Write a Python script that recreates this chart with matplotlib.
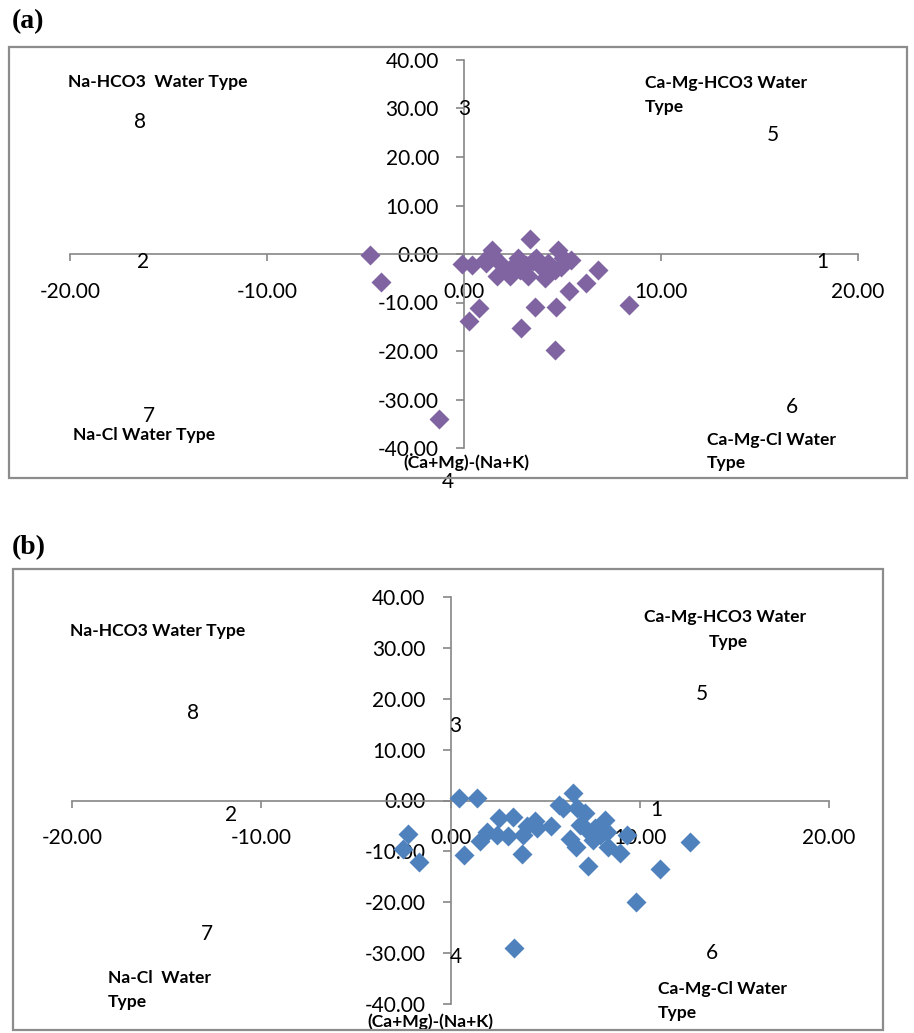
import matplotlib
matplotlib.use("Agg")
import matplotlib.pyplot as plt
from matplotlib.patches import Rectangle
from matplotlib.ticker import FormatStrFormatter

plt.rcParams['font.family'] = ['Lato', 'DejaVu Sans']
plt.rcParams['axes.unicode_minus'] = False

# (Ca+Mg)-(Na+K) vs (HCO3)-(Cl+SO4), panel (a)
xa = [-4.75, -4.21, -1.26, -0.08, 0.39, 0.27, 0.77, 1.06, 1.40, 1.48, 1.14, 1.65,
      1.82, 2.32, 2.49, 2.74, 2.91, 2.83, 3.33, 3.25, 3.16, 3.67, 3.59, 3.84,
      4.09, 4.26, 4.60, 4.76, 4.68, 4.60, 5.00, 5.42, 5.35, 6.20, 6.78, 8.38,
      4.34, 3.50, 2.10, 4.90]
ya = [-0.3, -5.8, -34.0, -2.0, -2.2, -13.8, -11.2, -1.2, 0.8, -0.5, -1.9, -4.6,
      -1.9, -4.6, -2.5, -0.8, -15.3, -3.2, 3.1, -4.6, -2.2, -0.8, -10.9, -2.5,
      -5.0, -1.9, -3.2, 0.8, -10.9, -19.7, -0.8, -1.2, -7.7, -6.0, -3.2, -10.6,
      -3.9, -1.5, -3.0, -2.6]

# panel (b)
xb = [-2.23, -2.49, -1.65, 0.47, 1.38, 0.73, 1.56, 1.91, 2.44, 2.58, 3.05, 3.32,
      3.76, 3.85, 4.02, 4.47, 4.55, 3.36, 5.29, 5.75, 5.96, 6.49, 6.31, 6.63,
      6.66, 7.10, 6.84, 7.20, 7.55, 7.28, 7.90, 8.16, 8.25, 7.63, 8.33, 8.95,
      9.30, 9.80, 11.07, 12.65, 7.90]
yb = [-6.6, -9.6, -12.0, 0.5, 0.5, -10.7, -7.9, -6.1, -6.8, -3.5, -7.0, -3.3,
      -10.5, -6.8, -5.0, -4.1, -5.5, -28.9, -5.1, -0.9, -1.5, 1.4, -7.6, -9.2,
      -1.5, -2.5, -4.8, -5.8, -7.8, -12.9, -5.1, -3.9, -6.1, -5.5, -9.2, -10.3,
      -6.8, -19.9, -13.4, -8.1, -6.8]

xticks = [-20, -10, 0, 10, 20]
yticks = [-40, -30, -20, -10, 0, 10, 20, 30, 40]

# (x, y, text, bold, ha) in data coords of each panel
notes_a = [
    (-20.1, 35.5, 'Na-HCO3  Water Type', True, 'left'),
    (-16.45, 27.2, '8', False, 'center'),
    (0.0, 29.9, '3', False, 'center'),
    (9.19, 35.3, 'Ca-Mg-HCO3 Water', True, 'left'),
    (9.19, 30.3, 'Type', True, 'left'),
    (15.69, 24.5, '5', False, 'center'),
    (-16.3, -1.65, '2', False, 'center'),
    (18.17, -1.65, '1', False, 'center'),
    (-16.0, -33.4, '7', False, 'center'),
    (-19.85, -37.3, 'Na-Cl Water Type', True, 'left'),
    (16.65, -31.5, '6', False, 'center'),
    (12.34, -38.35, 'Ca-Mg-Cl Water', True, 'left'),
    (12.34, -43.1, 'Type', True, 'left'),
    (-3.1, -43.1, '(Ca+Mg)-(Na+K)', True, 'left'),
    (-0.81, -47.0, '4', False, 'center'),
]
notes_b = [
    (-20.1, 33.3, 'Na-HCO3 Water Type', True, 'left'),
    (-13.6, 17.2, '8', False, 'center'),
    (0.24, 14.6, '3', False, 'center'),
    (14.5, 36.05, 'Ca-Mg-HCO3 Water', True, 'center'),
    (14.66, 31.1, 'Type', True, 'center'),
    (13.29, 20.9, '5', False, 'center'),
    (-11.6, -2.85, '2', False, 'center'),
    (10.9, -1.87, '1', False, 'center'),
    (-12.86, -26.2, '7', False, 'center'),
    (-18.1, -34.9, 'Na-Cl  Water', True, 'left'),
    (-18.1, -39.6, 'Type', True, 'left'),
    (0.29, -30.7, '4', False, 'center'),
    (13.8, -30.0, '6', False, 'center'),
    (10.96, -37.0, 'Ca-Mg-Cl Water', True, 'left'),
    (10.96, -41.7, 'Type', True, 'left'),
    (-4.41, -43.5, '(Ca+Mg)-(Na+K)', True, 'left'),
]

W, H = 914, 1033
fig = plt.figure(figsize=(W / 100, H / 100), dpi=100)


def px_rect(x0, y0, x1, y1):
    # pixel box (top-left origin) -> figure fraction [l, b, w, h]
    return [x0 / W, 1 - y1 / H, (x1 - x0) / W, (y1 - y0) / H]


def panel(box, frame, xs, ys, color, notes, tag, tag_pos):
    l, b, w, h = px_rect(*frame)
    fig.add_artist(Rectangle((l, b), w, h, transform=fig.transFigure,
                             fill=False, edgecolor='#8c8c8c', lw=1.6))
    fig.text(tag_pos[0] / W, 1 - tag_pos[1] / H, tag, family='Liberation Serif',
             fontweight='bold', fontsize=20, ha='left', va='center')

    ax = fig.add_axes(px_rect(*box))
    ax.set_xlim(-20, 20)
    ax.set_ylim(-40, 40)
    ax.patch.set_visible(False)
    for s in ['top', 'right']:
        ax.spines[s].set_visible(False)
    for s in ['left', 'bottom']:
        ax.spines[s].set_position(('data', 0))
        ax.spines[s].set_color('#868686')
        ax.spines[s].set_linewidth(1.2)
    ax.set_xticks(xticks)
    ax.set_yticks(yticks)
    ax.xaxis.set_major_formatter(FormatStrFormatter('%.2f'))
    ax.yaxis.set_major_formatter(FormatStrFormatter('%.2f'))
    ax.tick_params(axis='x', direction='out', length=5, width=1.2, color='#868686',
                   pad=15, labelsize=15)
    ax.tick_params(axis='y', direction='out', length=6, width=1.2, color='#868686',
                   pad=12, labelsize=15)

    ax.plot(xs, ys, linestyle='none', marker='D', markersize=10,
            markerfacecolor=color, markeredgecolor='none', clip_on=False, zorder=3)

    for x, y, t, bold, ha in notes:
        ax.text(x, y, t, fontsize=12.6 if bold else 15,
                fontweight='bold' if bold else 'normal',
                ha=ha, va='center', clip_on=False)
    return ax


panel((70, 60, 858, 448), (9, 47, 907, 478), xa, ya, '#8064A2', notes_a,
      '(a)', (12, 22))
panel((72, 597, 829, 1004), (13, 569, 883, 1030), xb, yb, '#4F81BD', notes_b,
      '(b)', (12, 548))

fig.savefig('out.png', dpi=100)
